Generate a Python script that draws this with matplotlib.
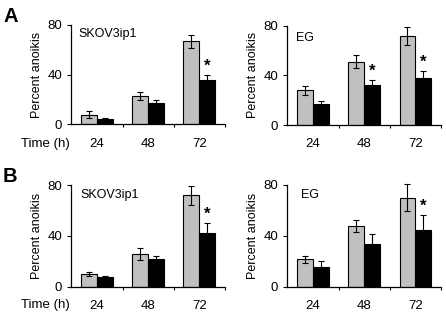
import matplotlib
matplotlib.use("Agg")
from matplotlib import pyplot as plt
import numpy as np

plt.rcParams["font.family"] = ["Liberation Sans", "DejaVu Sans"]

# time points
times = ["24", "48", "72"]

# A: SKOV3ip1
a_skov_ctrl = [8, 23, 67]
a_skov_ctrl_err = [2.7, 3.2, 5.3]
a_skov_trt = [4.5, 17, 36]
a_skov_trt_err = [0.8, 2.4, 3.4]
a_skov_star = [False, False, True]

# A: EG
a_eg_ctrl = [28, 51, 72]
a_eg_ctrl_err = [3.5, 5.4, 7.2]
a_eg_trt = [17, 32, 38]
a_eg_trt_err = [2.4, 4.3, 5.3]
a_eg_star = [False, True, True]

# B: SKOV3ip1
b_skov_ctrl = [10, 25.5, 72]
b_skov_ctrl_err = [1.8, 4.7, 7.7]
b_skov_trt = [7.5, 21.5, 42.5]
b_skov_trt_err = [1.3, 2.9, 7.4]
b_skov_star = [False, False, True]

# B: EG
b_eg_ctrl = [21.5, 48, 70]
b_eg_ctrl_err = [2.6, 4.7, 10.5]
b_eg_trt = [15.5, 33.5, 44.5]
b_eg_trt_err = [4.5, 7.9, 11.6]
b_eg_star = [False, False, True]

GRAY = "#c0c0c0"
W = 0.31


def panel(ax, name, name_xy, ctrl, ctrl_err, trt, trt_err, stars):
    x = np.arange(len(times))
    ax.bar(x - W / 2, ctrl, W, color=GRAY, edgecolor="black", linewidth=0.8, zorder=2)
    ax.bar(x + W / 2, trt, W, color="black", edgecolor="black", linewidth=0.8, zorder=2)
    for xs, ys, es in [(x - W / 2, ctrl, ctrl_err), (x + W / 2, trt, trt_err)]:
        eb = ax.errorbar(xs, ys, yerr=es, fmt="none", ecolor="black",
                         elinewidth=0.8, capsize=2.2, capthick=0.8, zorder=3)
        for a in eb.lines[1]:
            a.set_clip_on(False)
        for a in eb.lines[2]:
            a.set_clip_on(False)
    for i, s in enumerate(stars):
        if s:
            ax.text(x[i] + W / 2, trt[i] + trt_err[i] + 1, "*", ha="center",
                    va="bottom", fontsize=12, fontweight="bold")
    ax.set_xlim(-0.5, 2.5)
    ax.set_ylim(0, 80)
    ax.set_yticks([0, 40, 80])
    ax.set_xticks(x)
    ax.set_xticklabels(times, fontsize=9.5)
    ax.set_xticks([0.5, 1.5, 2.5], minor=True)
    ax.tick_params(axis="x", which="major", length=0, pad=9.5)
    ax.tick_params(axis="x", which="minor", length=2.5, width=0.8, direction="out")
    ax.tick_params(axis="y", length=3, width=0.8, labelsize=9.5, pad=3.5)
    for sp in ["top", "right"]:
        ax.spines[sp].set_visible(False)
    for sp in ["left", "bottom"]:
        ax.spines[sp].set_linewidth(0.9)
    ax.set_ylabel("Percent anoikis", fontsize=9, labelpad=3)
    ax.text(name_xy[0], name_xy[1], name, transform=ax.transAxes, fontsize=9,
            va="top", ha="left")


fig = plt.figure(figsize=(4.46, 3.2), dpi=100)

ax1 = fig.add_axes([0.160, 0.611, 0.344, 0.311])
ax2 = fig.add_axes([0.644, 0.609, 0.345, 0.311])
ax3 = fig.add_axes([0.160, 0.104, 0.344, 0.317])
ax4 = fig.add_axes([0.644, 0.104, 0.345, 0.318])

panel(ax1, "SKOV3ip1", (0.046, 0.97), a_skov_ctrl, a_skov_ctrl_err,
      a_skov_trt, a_skov_trt_err, a_skov_star)
panel(ax2, "EG", (0.06, 0.94), a_eg_ctrl, a_eg_ctrl_err,
      a_eg_trt, a_eg_trt_err, a_eg_star)
panel(ax3, "SKOV3ip1", (0.06, 0.96), b_skov_ctrl, b_skov_ctrl_err,
      b_skov_trt, b_skov_trt_err, b_skov_star)
panel(ax4, "EG", (0.09, 0.96), b_eg_ctrl, b_eg_ctrl_err,
      b_eg_trt, b_eg_trt_err, b_eg_star)

# panel letters and time label
fig.text(0.007, 0.978, "A", fontsize=14.5, fontweight="bold", va="top", ha="left")
fig.text(0.007, 0.478, "B", fontsize=14.5, fontweight="bold", va="top", ha="left")
fig.text(0.047, 0.549, "Time (h)", fontsize=9.5, va="center", ha="left")
fig.text(0.047, 0.047, "Time (h)", fontsize=9.5, va="center", ha="left")

plt.savefig("out.png", dpi=100)
